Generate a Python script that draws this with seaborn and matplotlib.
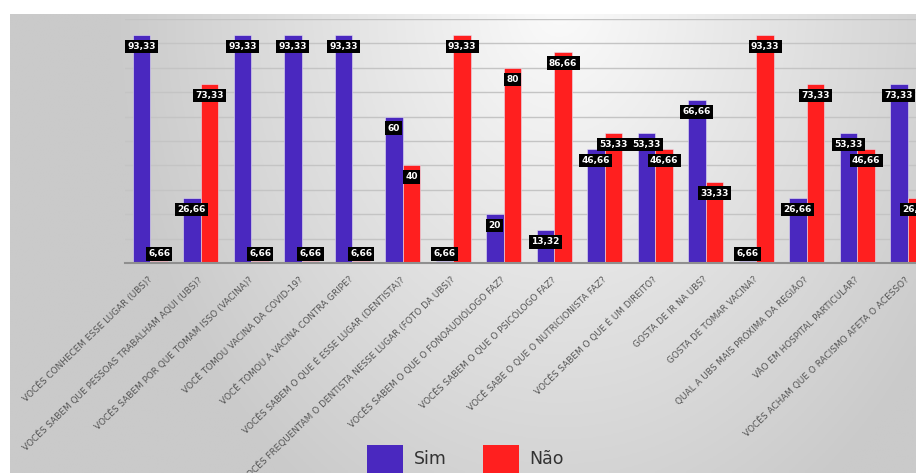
import numpy as np
import pandas as pd
import matplotlib
matplotlib.use("Agg")
import matplotlib.pyplot as plt
import matplotlib.transforms as mtransforms
from matplotlib.patches import Patch
import seaborn as sns

perguntas = [
    "VOCÊS CONHECEM ESSE LUGAR (UBS)?",
    "VOCÊS SABEM QUE PESSOAS TRABALHAM AQUI (UBS)?",
    "VOCÊS SABEM POR QUE TOMAM ISSO (VACINA)?",
    "VOCÊ TOMOU VACINA DA COVID-19?",
    "VOCÊ TOMOU A VACINA CONTRA GRIPE?",
    "VOCÊS SABEM O QUE É ESSE LUGAR (DENTISTA)?",
    "VOCÊS FREQUENTAM O DENTISTA NESSE LUGAR (FOTO DA UBS)?",
    "VOCÊS SABEM O QUE O FONOAUDIÓLOGO FAZ?",
    "VOCÊS SABEM O QUE O PSICÓLOGO FAZ?",
    "VOCÊ SABE O QUE O NUTRICIONISTA FAZ?",
    "VOCÊS SABEM O QUE É UM DIREITO?",
    "GOSTA DE IR NA UBS?",
    "GOSTA DE TOMAR VACINA?",
    "QUAL A UBS MAIS PRÓXIMA DA REGIÃO?",
    "VÃO EM HOSPITAL PARTICULAR?",
    "VOCÊS ACHAM QUE O RACISMO AFETA O ACESSO?",
]

# rótulos mostrados
sim_rotulos = ["93,33", "26,66", "93,33", "93,33", "93,33", "60", "6,66", "20",
               "13,32", "46,66", "53,33", "66,66", "6,66", "26,66", "53,33", "73,33"]
nao_rotulos = ["6,66", "73,33", "6,66", "6,66", "6,66", "40", "93,33", "80",
               "86,66", "53,33", "46,66", "33,33", "93,33", "73,33", "46,66", "26,66"]

# alturas das barras como aparecem no gráfico
sim_alturas = [93.33, 26.66, 93.33, 93.33, 93.33, 60, 1.0, 20,
               13.32, 46.66, 53.33, 66.66, 1.0, 26.66, 53.33, 73.33]
nao_alturas = [1.0, 73.33, 1.0, 1.0, 1.0, 40, 93.33, 80,
               86.66, 53.33, 46.66, 33.33, 93.33, 73.33, 46.66, 26.66]

series = ["Sim", "Não"]
cores = {"Sim": "#4a28bf", "Não": "#ff1f1f"}

df = pd.DataFrame({
    "pergunta": perguntas * 2,
    "valor": sim_alturas + nao_alturas,
    "resposta": ["Sim"] * len(perguntas) + ["Não"] * len(perguntas),
})

W, H = 916, 473
fig = plt.figure(figsize=(W / 100, H / 100), dpi=100)
fig.patch.set_facecolor("white")

# gradient background panel
bg = fig.add_axes([10 / W, 0, (W - 10) / W, (H - 14) / H], zorder=0)
xx = np.linspace(10, W, 300)
yy = np.linspace(14, H, 160)
X, Y = np.meshgrid(xx, yy)
d = np.sqrt(((X - 560) / 450) ** 2 + ((Y - 0) / 600) ** 2)
v = (251 - 49 * np.clip(d, 0, 1)) / 255.0
img = np.dstack([v, v, v])
bg.imshow(img, aspect="auto", extent=[0, 1, 0, 1], origin="upper")
bg.set_axis_off()

ax = fig.add_axes([125 / W, (H - 263) / H, 16 * 50.5 / W, 244 / H], zorder=1)
ax.set_facecolor("none")

sns.barplot(data=df, x="pergunta", y="valor", hue="resposta", order=perguntas,
            hue_order=series, palette=cores, width=0.7, gap=0, ax=ax,
            legend=False, edgecolor="#e6e2f2", linewidth=0.4, saturation=1)

ax.set_xlim(-0.5, len(perguntas) - 0.5)
ax.set_ylim(0, 100)
ax.set_yticks(np.arange(10, 101, 10))
ax.set_yticklabels([])
ax.tick_params(axis="y", length=0)
ax.yaxis.grid(True, color="#c4c4c4", linewidth=1.0)
ax.set_axisbelow(True)
for s in ["top", "right", "left"]:
    ax.spines[s].set_visible(False)
ax.spines["bottom"].set_color("#8f8f8f")
ax.spines["bottom"].set_linewidth(1.5)
ax.set_xlabel("")
ax.set_ylabel("")
ax.tick_params(axis="x", length=0, pad=8.5)
ax.set_xticks(range(len(perguntas)))
ax.set_xticklabels(perguntas, rotation=44, ha="right", rotation_mode="anchor",
                   fontsize=6.4, color="#555555")
shift = mtransforms.ScaledTranslation(-3 / 100, 0, fig.dpi_scale_trans)
for lbl in ax.get_xticklabels():
    lbl.set_transform(lbl.get_transform() + shift)

rotulos = [sim_rotulos, nao_rotulos]
for cont, labs in zip(ax.containers, rotulos):
    for bar, lab in zip(cont, labs):
        h = bar.get_height()
        cx = bar.get_x() + bar.get_width() / 2
        y = max(h - 4.7, 3.7)
        ax.text(cx, y, lab, ha="center", va="center", fontsize=6.5,
                fontweight="bold", color="white", zorder=5,
                bbox=dict(boxstyle="square,pad=0.25", fc="black", ec="none"))

handles = [Patch(facecolor=cores[s], edgecolor="none", label=s) for s in series]
fig.legend(handles=handles, loc="center", bbox_to_anchor=(465.5 / W, 1 - 459 / H),
           ncol=2, frameon=False, fontsize=12.5, handlelength=2.07,
           handleheight=2.07, handletextpad=0.63, columnspacing=2.07,
           borderpad=0, borderaxespad=0, labelcolor="#333333")

fig.savefig("out.png", dpi=100, facecolor=fig.get_facecolor())
